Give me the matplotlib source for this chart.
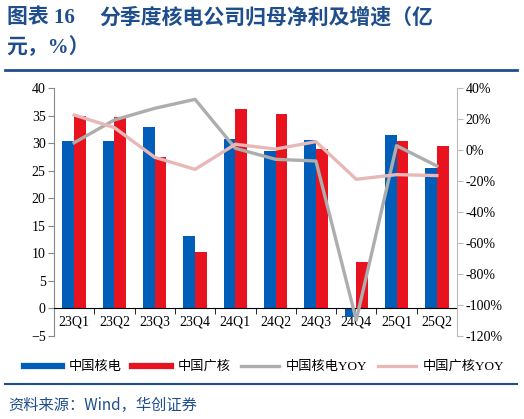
import matplotlib
matplotlib.use("Agg")
import matplotlib.pyplot as plt
import numpy as np
from matplotlib.ticker import FuncFormatter, MultipleLocator, FixedLocator
from matplotlib.lines import Line2D

plt.rcParams['font.family'] = ['Liberation Serif', 'Noto Sans CJK SC', 'DejaVu Sans']

categories = ['23Q1', '23Q2', '23Q3', '23Q4', '24Q1', '24Q2', '24Q3', '24Q4', '25Q1', '25Q2']
cgn_nuclear = [30.4, 30.3, 33.0, 13.1, 30.7, 28.5, 30.6, -1.6, 31.5, 25.4]   # 中国核电
cgn_power = [35.0, 34.8, 27.5, 10.3, 36.2, 35.3, 28.9, 8.4, 30.4, 29.4]      # 中国广核
cnnp_yoy = [4.7, 19.4, 26.9, 32.7, 1.1, -6.0, -7.1, -109.7, 2.8, -10.3]      # 中国核电YOY
cgn_yoy = [22.6, 14.4, -4.7, -12.5, 3.7, 0.6, 5.4, -18.9, -15.9, -16.5]      # 中国广核YOY
series_labels = ['中国核电', '中国广核', '中国核电YOY', '中国广核YOY']

BLUE = '#005EB8'
RED = '#E8131E'
GRAY = '#ADADAD'
PINK = '#E8B8B8'
NAVY = '#1F4E8C'

fig = plt.figure(figsize=(5.24, 4.19), dpi=100)
ax = fig.add_axes([54/524, 1-336/419, (457-54)/524, (336-88)/419])
x = np.arange(len(categories))
w = 0.29
ax.bar(x - w/2, cgn_nuclear, width=w, color=BLUE, zorder=2)
ax.bar(x + w/2, cgn_power, width=w, color=RED, zorder=2)
ax.set_ylim(-5, 40)
ax.set_xlim(-0.5, len(categories) - 0.5)
ax.yaxis.set_major_locator(MultipleLocator(5))
ax.spines['top'].set_visible(False)
ax.spines['right'].set_visible(False)
ax.spines['left'].set_color('#888888')
ax.spines['bottom'].set_position(('data', 0))
ax.spines['bottom'].set_color('black')
ax.set_xticks(x)
ax.set_xticklabels(categories)
ax.xaxis.set_minor_locator(FixedLocator(np.arange(-0.5, len(categories), 1.0)))
ax.tick_params(axis='x', which='major', length=0, pad=5, labelsize=10)
ax.tick_params(axis='x', which='minor', length=4, direction='out', color='black')
ax.tick_params(axis='y', length=4, color='#888888', labelsize=10, pad=2)

ax2 = ax.twinx()
ax2.plot(x, cnnp_yoy, color=GRAY, lw=2.4, zorder=3)
ax2.plot(x, cgn_yoy, color=PINK, lw=2.4, zorder=3)
ax2.set_ylim(-120, 40)
ax2.yaxis.set_major_locator(MultipleLocator(20))
ax2.yaxis.set_major_formatter(FuncFormatter(lambda v, p: f'{int(round(v))}%'))
for s in ['top', 'bottom', 'left']:
    ax2.spines[s].set_visible(False)
ax2.spines['right'].set_color('#BBBBBB')
ax2.tick_params(axis='y', length=4, color='#BBBBBB', labelsize=10, pad=2)

handles = [Line2D([], [], color=BLUE, lw=4.5), Line2D([], [], color=RED, lw=4.5),
           Line2D([], [], color=GRAY, lw=2.4), Line2D([], [], color=PINK, lw=2.4)]
fig.legend(handles, series_labels, loc='center', bbox_to_anchor=(0.504, 1-367/419), ncol=4,
           frameon=False, handlelength=2.9, handletextpad=0.5, columnspacing=0.8,
           prop={'family': ['Liberation Serif', 'Noto Sans CJK SC'], 'size': 9.5})

title_font = ['Liberation Serif', 'Noto Sans CJK SC']
fig.text(7/524, 1-18/419, '图表 16', fontsize=15, fontweight='bold',
         color=NAVY, va='center', ha='left', family=title_font)
fig.text(99/524, 1-18/419, '分季度核电公司归母净利及增速（亿', fontsize=15, fontweight='bold',
         color=NAVY, va='center', ha='left', family=title_font)
fig.text(6/524, 1-48/419, '元，%）', fontsize=15, fontweight='bold',
         color=NAVY, va='center', ha='left', family=title_font)
fig.add_artist(Line2D([5/524, 517/524], [1-70/419, 1-70/419], color=NAVY, lw=2, transform=fig.transFigure))
fig.add_artist(Line2D([5/524, 517/524], [1-384/419, 1-384/419], color=NAVY, lw=1.5, transform=fig.transFigure))
fig.text(8/524, 1-405/419, '资料来源：Wind，华创证券', fontsize=11, style='italic', color=NAVY,
         va='center', ha='left', family=['Noto Sans CJK SC', 'Liberation Serif'])

fig.savefig('out.png', dpi=100)
